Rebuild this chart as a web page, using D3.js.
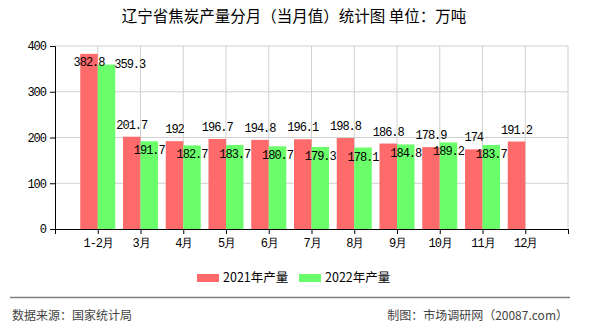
<!DOCTYPE html>
<html>
<head>
<meta charset="utf-8">
<script src="https://cdn.jsdelivr.net/npm/d3@7"></script>
<style>
body{margin:0;background:#fff;}
svg{display:block;}
</style>
</head>
<body>
<svg id="chart"></svg>
<script>
// data
var months=["1-2月","3月","4月","5月","6月","7月","8月","9月","10月","11月","12月"]
var prod2021=[382.8,201.7,192,196.7,194.8,196.1,198.8,186.8,178.9,174,191.2]
var prod2022=[359.3,191.7,182.7,183.7,180.7,179.3,178.1,184.8,189.2,183.7,null]
var yTicks=[0,100,200,300,400]
var seriesNames=["2021年产量","2022年产量"]
var colors=["#ff6a6a","#6aff6a"]

var screen={width:590,height:330}
var plot={left:55,right:568,top:46,bottom:229}
var numFont="'Liberation Mono','DejaVu Sans Mono',monospace"
var cjkFont="'Noto Sans CJK SC','Noto Sans',sans-serif"

var svg=d3.select("#chart")
    .attr("width",screen.width)
    .attr("height",screen.height)

var xScale=d3.scaleLinear()
    .domain([0,months.length+1])
    .range([plot.left,plot.right])
var yScale=d3.scaleLinear()
    .domain([0,400])
    .range([plot.bottom,plot.top])
var barW=17.5

// grid
var grid=svg.append("g")
grid.selectAll(".hg")
    .data(yTicks.filter(function(d){return d>0}))
    .enter().append("line")
    .attr("x1",plot.left).attr("x2",plot.right)
    .attr("y1",function(d){return yScale(d)}).attr("y2",function(d){return yScale(d)})
    .attr("stroke","#d0d0d0")
grid.selectAll(".vg")
    .data(d3.range(1,months.length+2))
    .enter().append("line")
    .attr("x1",function(d){return xScale(d)}).attr("x2",function(d){return xScale(d)})
    .attr("y1",plot.top).attr("y2",plot.bottom)
    .attr("stroke","#d0d0d0")

// bars
var drawBars=function(values,k){
    svg.append("g").selectAll("rect")
    .data(values)
    .enter()
    .filter(function(d){return d!=null})
    .append("rect")
    .attr("x",function(d,i){return xScale(i+1)+(k==0?-barW:0)})
    .attr("y",function(d){return yScale(d)})
    .attr("width",barW)
    .attr("height",function(d){return plot.bottom-yScale(d)})
    .attr("fill",colors[k])
}
drawBars(prod2021,0)
drawBars(prod2022,1)

// axes
var yAxis=d3.axisLeft(yScale).tickValues(yTicks).tickSize(5).tickPadding(4)
var ya=svg.append("g").attr("transform","translate("+plot.left+",0)").call(yAxis)
ya.select(".domain").attr("stroke","#000")
ya.selectAll("text").attr("font-family",numFont).attr("font-size",12).attr("letter-spacing","-1px").attr("fill","#000")

var xAxis=d3.axisBottom(xScale)
    .tickValues(d3.range(0,months.length+2))
    .tickSize(5).tickPadding(4)
    .tickFormat(function(d){return (d>=1&&d<=months.length)?months[d-1]:""})
var xa=svg.append("g").attr("transform","translate(0,"+plot.bottom+")").call(xAxis)
xa.select(".domain").attr("stroke","#000")
xa.selectAll("text").attr("font-family",numFont).attr("font-size",12).attr("letter-spacing","-1px").attr("fill","#000")

// value labels
var labels=svg.append("g").attr("font-family",numFont).attr("font-size",12).attr("letter-spacing","-1px").attr("fill","#000")
prod2021.forEach(function(v,i){
    var top=yScale(v)
    var cx=xScale(i+1)-barW/2
    var crowded=top-18<plot.top
    labels.append("text")
        .attr("x",cx).attr("y",crowded?top+12:top-8)
        .attr("text-anchor","middle")
        .text(v)
    var g=prod2022[i]
    if(g!=null){
        var gt=yScale(g)
        if(crowded){
            labels.append("text")
                .attr("x",xScale(i+1)+barW-1).attr("y",gt+3)
                .text(g)
        }else{
            labels.append("text")
                .attr("x",xScale(i+1)+barW/2).attr("y",gt+13)
                .attr("text-anchor","middle")
                .text(g)
        }
    }
})

// title
svg.append("text")
    .attr("x",294).attr("y",22)
    .attr("text-anchor","middle")
    .attr("font-family",cjkFont).attr("font-size",15.5)
    .attr("fill","#000")
    .text("辽宁省焦炭产量分月（当月值）统计图 单位：万吨")

// legend
var legX=[197,299]
seriesNames.forEach(function(n,k){
    svg.append("rect").attr("x",legX[k]).attr("y",274).attr("width",22).attr("height",8).attr("fill",colors[k])
    svg.append("text").attr("x",legX[k]+26).attr("y",282)
        .attr("font-family",cjkFont).attr("font-size",12.5).attr("fill","#000")
        .text(n)
})

// footer
svg.append("line").attr("x1",10).attr("x2",570).attr("y1",297.5).attr("y2",297.5).attr("stroke","#808080").attr("stroke-width",1.5)
svg.append("text").attr("x",12).attr("y",320)
    .attr("font-family",cjkFont).attr("font-size",12).attr("fill","#444")
    .text("数据来源：国家统计局")
svg.append("text").attr("x",568).attr("y",320).attr("text-anchor","end")
    .attr("font-family",cjkFont).attr("font-size",12).attr("fill","#444")
    .text("制图：市场调研网（20087.com）")
</script>
</body>
</html>
